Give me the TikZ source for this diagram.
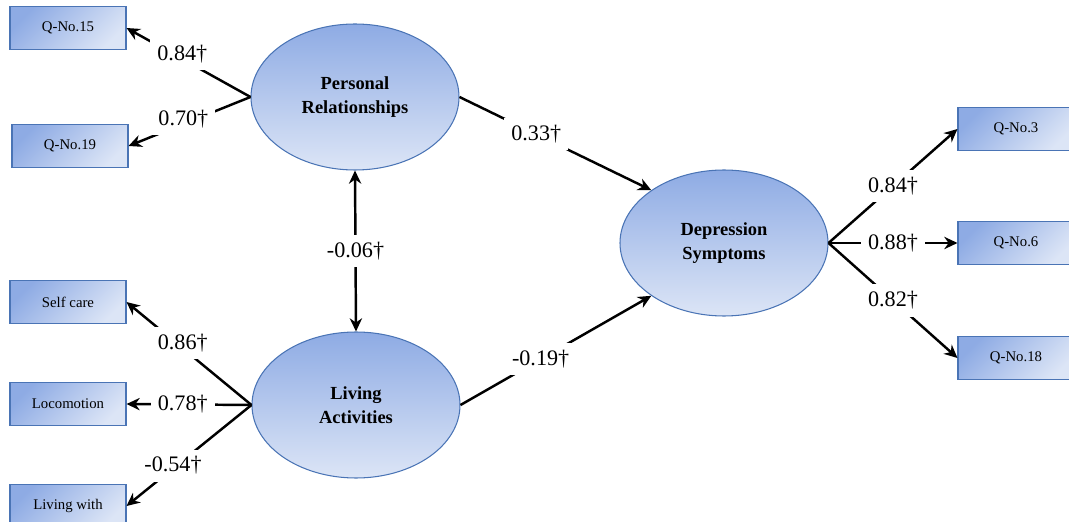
\documentclass[tikz,border=0pt]{standalone}
\usepackage{fontspec}
\setmainfont{Liberation Serif}
\usetikzlibrary{shapes.geometric,arrows.meta}
\definecolor{boxdark}{HTML}{8EABE4}
\definecolor{boxlight}{HTML}{DCE5F6}
\definecolor{boxline}{HTML}{4A74B5}
\tikzset{
  latent/.style={ellipse,draw=boxline,line width=0.6pt,top color=boxdark,bottom color=boxlight,
    minimum width=4.16cm,minimum height=2.92cm,inner sep=0pt,align=center,
    font=\fontsize{10.5}{14}\selectfont\bfseries},
  item/.style={rectangle,draw=boxline,line width=0.6pt,top color=boxdark,bottom color=boxlight,
    shading angle=45,minimum width=2.32cm,minimum height=0.86cm,inner sep=0pt,
    font=\fontsize{8.4}{10}\selectfont},
  path/.style={line width=1.4pt,-{Stealth[length=7.5pt,width=7pt]}},
  lbl/.style={fill=white,inner sep=4pt,font=\fontsize{12.6}{14}\selectfont}
}
\begin{document}
\begin{tikzpicture}[x=0.2mm,y=-0.2mm]
\useasboundingbox (0,0) rectangle (1069,522);
\clip (0,0) rectangle (1069,522);
% latent variables
\node[latent] (pers) at (355,97) {Personal\\Relationships};
\node[latent] (live) at (356,405) {Living\\Activities};
\node[latent] (depr) at (724,243) {Depression\\Symptoms};
% indicators
\node[item] (q15) at (68,28) {Q-No.15};
\node[item] (q19) at (70,146) {Q-No.19};
\node[item] (self) at (68,302) {Self care};
\node[item] (loco) at (68,404) {Locomotion};
\node[item] (with) at (68,506) {Living with};
\node[item] (q3) at (1016,129) {Q-No.3};
\node[item] (q6) at (1016,243) {Q-No.6};
\node[item] (q18) at (1016,358) {Q-No.18};
% loadings
\draw[path] (pers.west) -- node[lbl,pos=0.55,yshift=3pt] {0.84†} (q15.east);
\draw[path] (pers.west) -- node[lbl,pos=0.55,yshift=3pt] {0.70†} (q19.east);
\draw[path] (live.west) -- node[lbl,pos=0.55,yshift=3pt] {0.86†} (self.east);
\draw[path] (live.west) -- node[lbl,pos=0.55] {0.78†} (loco.east);
\draw[path] (live.west) -- node[lbl,pos=0.6,xshift=-2pt] {-0.54†} (with.east);
\draw[path] (depr.east) -- node[lbl] {0.84†} (q3.west);
\draw[path] (depr.east) -- node[lbl] {0.88†} (q6.west);
\draw[path] (depr.east) -- node[lbl] {0.82†} (q18.west);
% structural paths
\draw[path] (pers.east) -- node[lbl,pos=0.4] {0.33†} (depr.144);
\draw[path] (live.east) -- node[lbl,pos=0.42] {-0.19†} (depr.216);
\draw[path,{Stealth[length=7.5pt,width=7pt]}-{Stealth[length=7.5pt,width=7pt]}] (pers.south) -- node[lbl] {-0.06†} (live.north);
\end{tikzpicture}
\end{document}
